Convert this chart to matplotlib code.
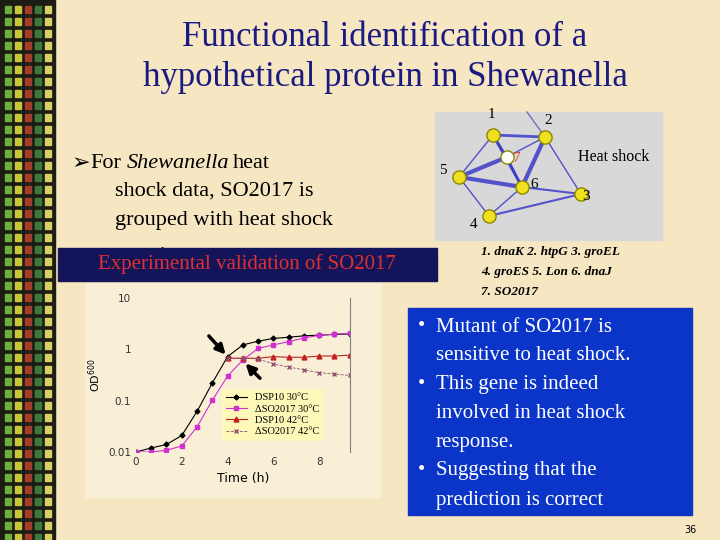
import numpy as np
import matplotlib
matplotlib.use("Agg")
import matplotlib.pyplot as plt
from matplotlib.patches import Rectangle

# growth curve data (OD600, log scale)
t_30 = [0, 0.67, 1.33, 2, 2.67, 3.33, 4, 4.67, 5.33, 6, 6.67, 7.33, 8, 8.67, 9.33]
od_wt_30 = [0.01, 0.012, 0.014, 0.021, 0.062, 0.22, 0.72, 1.22, 1.44, 1.63, 1.72, 1.83, 1.89, 1.95, 2.0]
od_mut_30 = [0.01, 0.01, 0.0108, 0.0131, 0.031, 0.101, 0.30, 0.62, 1.04, 1.22, 1.41, 1.66, 1.87, 1.98, 2.06]
t_42 = [4, 4.67, 5.33, 6, 6.67, 7.33, 8, 8.67, 9.33]
od_wt_42 = [0.67, 0.67, 0.67, 0.72, 0.70, 0.70, 0.74, 0.74, 0.77]
od_mut_42 = [0.67, 0.67, 0.65, 0.52, 0.45, 0.40, 0.35, 0.33, 0.31]
legend_labels = ["DSP10 30\u00b0C", "\u0394SO2017 30\u00b0C", "DSP10 42\u00b0C", "\u0394SO2017 42\u00b0C"]

# network (pixel positions in slide)
node_ids = ["1", "2", "3", "4", "5", "6", "7"]
node_x = [493, 545, 581, 489, 459, 522, 507]
node_y = [135, 137, 194, 216, 177, 187, 157]
edges = [("1", "2", 2), ("1", "7", 1.5), ("1", "5", 1), ("1", "6", 2), ("2", "7", 1), ("2", "6", 3),
         ("2", "3", 1), ("7", "5", 3), ("7", "6", 1.5), ("5", "6", 3), ("5", "4", 1), ("6", "4", 1),
         ("6", "3", 1.5), ("4", "3", 1.5)]

W, H = 720, 540
BG = "#f6e6c2"
TITLE_COL = "#1a1a80"

fig = plt.figure(figsize=(7.2, 5.4), dpi=100)
fig.patch.set_facecolor(BG)
bg = fig.add_axes([0, 0, 1, 1])
bg.set_xlim(0, W)
bg.set_ylim(H, 0)
bg.axis("off")

# decorative left strip
bg.add_patch(Rectangle((0, 0), 55, H, color="#1c1c14", zorder=0))
cols = ["#6fae3a", "#c8c83a", "#a83a2a", "#3a7a3a", "#d8d060", "#505050"]
k = 0
for yy in range(6, H, 12):
    for xx in range(5, 55, 10):
        bg.add_patch(Rectangle((xx, yy), 6, 7, color=cols[(k * 7 + yy // 12) % len(cols)], zorder=1))
        k += 1

serif = ["Liberation Serif", "DejaVu Serif"]
bg.text(385, 37, "Functional identification of a", ha="center", va="center", fontsize=25,
        color=TITLE_COL, family=serif)
bg.text(385, 78, "hypothetical protein in Shewanella", ha="center", va="center", fontsize=25,
        color=TITLE_COL, family=serif)

# bullet text
tkw = dict(ha="left", va="center", fontsize=16, family=serif, zorder=1)
bg.text(72, 163, "\u27a2", ha="left", va="center", fontsize=16, color="black", family=["DejaVu Sans"])
bg.text(90, 163, "For", **tkw)
bg.text(127, 163, "Shewanella", style="italic", **tkw)
bg.text(233, 163, "heat", **tkw)
bg.text(115, 191, "shock data, SO2017 is", **tkw)
bg.text(115, 220, "grouped with heat shock", **tkw)
bg.text(115, 257, "proteins", **tkw)

# chart panel + header box
bg.add_patch(Rectangle((85, 283), 295, 214, color="#f8efd6", zorder=2))
bg.add_patch(Rectangle((58, 248), 379, 33, color="#14145a", zorder=3))
bg.text(247, 264, "Experimental validation of SO2017", ha="center", va="center", fontsize=15,
        color="#e03030", family=serif, zorder=4)

# network box
bg.add_patch(Rectangle((435, 112), 227, 128, color="#d8d8d8", zorder=2))
pos = {n: (x, y) for n, x, y in zip(node_ids, node_x, node_y)}
bg.plot([527, 545], [112, 137], color="#7070c0", lw=1, zorder=3)
for a, b, lw in edges:
    bg.plot([pos[a][0], pos[b][0]], [pos[a][1], pos[b][1]], color="#3030c8", lw=lw, alpha=0.8, zorder=3)
for n in node_ids:
    c = "white" if n == "7" else "#f0e020"
    bg.scatter(pos[n][0], pos[n][1], s=90, color=c, edgecolors="#888800", zorder=4)
lab_off = {"1": (-2, -20), "2": (3, -16), "3": (5, 3), "4": (-15, 9), "5": (-16, -6), "6": (12, -3), "7": (10, 1)}
for n in node_ids:
    dx, dy = lab_off[n]
    bg.text(pos[n][0] + dx, pos[n][1] + dy, n, ha="center", va="center", fontsize=11, family=serif,
            color="#d04040" if n == "7" else "black", zorder=5)
bg.text(614, 157, "Heat shock", ha="center", va="center", fontsize=11.5, family=serif, zorder=5)
gene_kw = dict(ha="left", va="center", fontsize=9.5, family=serif, weight="bold", style="italic")
bg.text(481, 252, "1. dnaK 2. htpG 3. groEL", **gene_kw)
bg.text(481, 272, "4. groES 5. Lon 6. dnaJ", **gene_kw)
bg.text(481, 292, "7. SO2017", **gene_kw)

# blue box with bullets
bg.add_patch(Rectangle((408, 308), 284, 207, color="#0b35c8", zorder=2))
lines = [("\u2022", "Mutant of SO2017 is", 327), ("", "sensitive to heat shock.", 356),
         ("\u2022", "This gene is indeed", 385), ("", "involved in heat shock", 413),
         ("", "response.", 442), ("\u2022", "Suggesting that the", 471), ("", "prediction is correct", 500)]
for b, s, y in lines:
    if b:
        bg.text(418, y, b, ha="left", va="center", fontsize=15, color="white", family=serif, zorder=5)
    bg.text(436, y, s, ha="left", va="center", fontsize=15, color="white", family=serif, zorder=5)
bg.text(697, 530, "36", ha="right", va="center", fontsize=7, family=["DejaVu Sans"])

# growth chart
ax = fig.add_axes([136 / W, 1 - 452 / H, (350 - 136) / W, (452 - 298) / H])
ax.set_facecolor("none")
ax.set_yscale("log")
ax.set_ylim(0.01, 10)
ax.set_xlim(0, 9.35)
ax.plot(t_30, od_wt_30, color="black", lw=0.8, marker="D", ms=2.5, label=legend_labels[0])
ax.plot(t_30, od_mut_30, color="#d030d0", lw=0.8, marker="s", ms=3, label=legend_labels[1])
ax.plot(t_42, od_wt_42, color="#c02020", lw=0.8, marker="^", ms=3.5, label=legend_labels[2])
ax.plot(t_42, od_mut_42, color="#905070", lw=0.6, ls="--", marker="x", ms=2.5, label=legend_labels[3])
for s in ["top", "left", "bottom"]:
    ax.spines[s].set_visible(False)
ax.spines["right"].set_color("gray")
ax.set_xticks([0, 2, 4, 6, 8])
ax.set_yticks([0.01, 0.1, 1, 10])
ax.set_yticklabels(["0.01", "0.1", "1", "10"])
ax.minorticks_off()
ax.tick_params(labelsize=7.5, length=0, colors="#333333")
ax.set_xlabel("Time (h)", fontsize=9)
ax.set_ylabel("OD$^{600}$", fontsize=8)
ax.annotate("", xy=(4, 0.72), xytext=(3.1, 2.0),
            arrowprops=dict(arrowstyle="-|>", color="black", lw=2.5, mutation_scale=14))
ax.annotate("", xy=(4.7, 0.58), xytext=(5.5, 0.25),
            arrowprops=dict(arrowstyle="-|>", color="black", lw=2.5, mutation_scale=14))
leg = ax.legend(loc="lower right", bbox_to_anchor=(0.9, 0.04), frameon=True,
                prop={"family": serif, "size": 7.5}, handlelength=2, borderpad=0.4, labelspacing=0.2)
leg.get_frame().set_facecolor("#fdf8b8")
leg.get_frame().set_edgecolor("none")
leg.get_frame().set_alpha(1)

fig.savefig("out.png", dpi=100, facecolor=BG)
